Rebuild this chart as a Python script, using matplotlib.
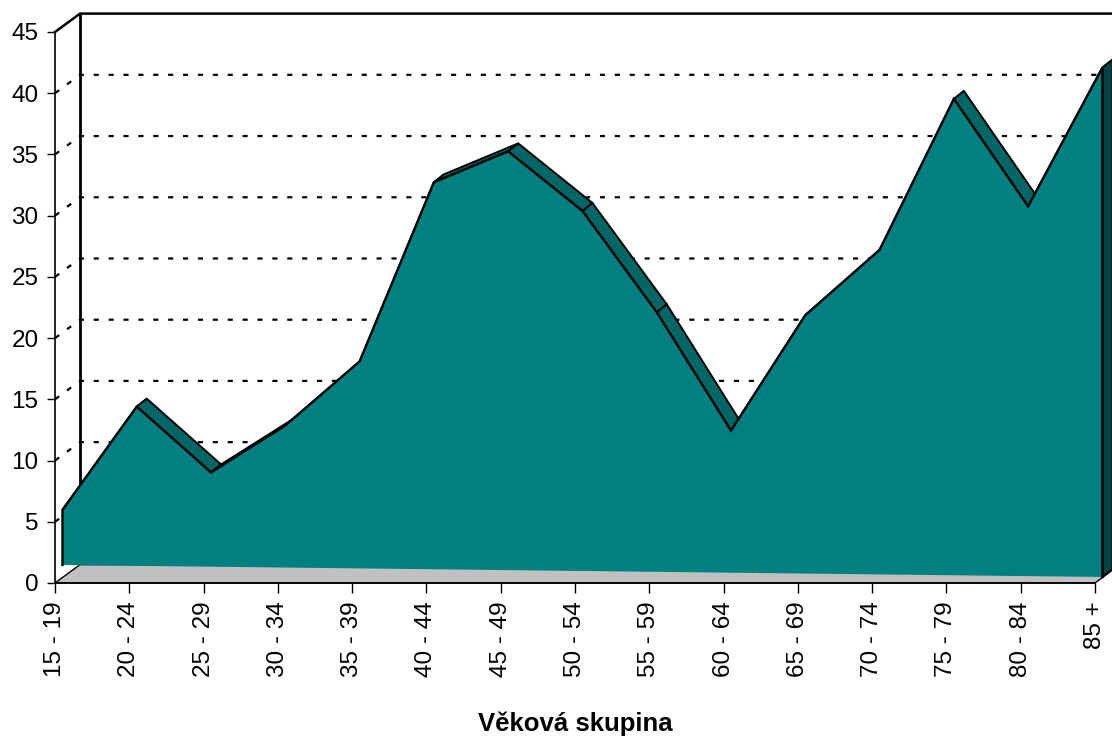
import numpy as np
import matplotlib.pyplot as plt
from matplotlib.patches import Polygon

plt.rcParams['font.family'] = ['Liberation Sans', 'DejaVu Sans']

# data
age_groups = ['15 - 19', '20 - 24', '25 - 29', '30 - 34', '35 - 39', '40 - 44',
              '45 - 49', '50 - 54', '55 - 59', '60 - 64', '65 - 69', '70 - 74',
              '75 - 79', '80 - 84', '85 +']
values = [4.5, 13.0, 7.7, 11.6, 16.9, 31.6, 34.2, 29.4, 21.2, 11.6,
          21.1, 26.5, 38.9, 30.2, 41.6]
y_ticks = [0, 5, 10, 15, 20, 25, 30, 35, 40, 45]
grid_levels = [5, 10, 15, 20, 25, 30, 35, 40]
x_title = 'Věková skupina'

# fake 3d look (offsets in data units)
wall_dx, wall_dy = 0.3365, 1.5      # front plane -> back wall
face_dx = 0.1                       # series face sits a bit behind the axis
base0, base_slope = 1.47, -0.07     # series baseline tilts toward the viewer
top_dx, top_dy = 0.135, 0.65        # thickness of the area

front_col = '#008080'
band_col = '#006666'
side_col = '#004545'
floor_col = '#c0c0c0'

fig = plt.figure(figsize=(11.12, 7.40), dpi=100)
ax = fig.add_axes([0.0495, 0.2122, 0.9352, 0.7446])
n = len(values)
ax.set_xlim(0, n - 1)
ax.set_ylim(0, 45)

# back wall + side wall outline
ax.plot([wall_dx, wall_dx], [wall_dy, 45 + wall_dy], color='black', lw=2, zorder=1, clip_on=False)
ax.plot([0, wall_dx, n - 1 + wall_dx + 1], [45, 45 + wall_dy, 45 + wall_dy],
        color='black', lw=1.8, zorder=1, clip_on=False)

# dotted gridlines on side wall and back wall
for g in grid_levels:
    ax.plot([0, wall_dx, n - 1 + wall_dx + 1], [g, g + wall_dy, g + wall_dy],
            color='black', lw=1.6, dashes=(2.3, 4.4), zorder=1, clip_on=False)

# floor
floor = Polygon([(0, 0), (wall_dx, wall_dy), (n - 1 + wall_dx, wall_dy), (n - 1, 0)],
                closed=True, fc=floor_col, ec='black', lw=1, zorder=2, clip_on=False)
ax.add_patch(floor)

xs = np.arange(n) + face_dx
base = base0 + base_slope * np.arange(n)
tops = base + np.array(values)

# top bands of the area
for i in range(n - 1):
    band = Polygon([(xs[i], tops[i]), (xs[i + 1], tops[i + 1]),
                    (xs[i + 1] + top_dx, tops[i + 1] + top_dy),
                    (xs[i] + top_dx, tops[i] + top_dy)],
                   closed=True, fc=band_col, ec='black', lw=1.4, zorder=3, clip_on=False)
    ax.add_patch(band)

# right side face
side = Polygon([(xs[-1], tops[-1]), (xs[-1] + top_dx, tops[-1] + top_dy),
                (xs[-1] + top_dx, base[-1] + top_dy), (xs[-1], base[-1])],
               closed=True, fc=side_col, ec='black', lw=1.4, zorder=3, clip_on=False)
ax.add_patch(side)

# front face
face_pts = [(xs[0], base[0])] + list(zip(xs, tops)) + [(xs[-1], base[-1])]
ax.add_patch(Polygon(face_pts, closed=True, fc=front_col, ec='none', zorder=4, clip_on=False))
ax.plot([p[0] for p in face_pts], [p[1] for p in face_pts], color='black', lw=1.7,
        zorder=5, clip_on=False, solid_joinstyle='miter')

# axes
for s in ['top', 'right']:
    ax.spines[s].set_visible(False)
ax.spines['left'].set_linewidth(1.2)
ax.spines['bottom'].set_linewidth(1.2)
ax.spines['left'].set_zorder(6)
ax.spines['bottom'].set_zorder(6)
ax.set_facecolor('none')

ax.set_xticks(range(n), age_groups, rotation=90)
ax.set_yticks(y_ticks)
ax.tick_params(axis='x', length=7, width=1, pad=6, labelsize=17.5)
ax.tick_params(axis='y', length=5.5, width=1, pad=6.5, labelsize=17.5)
ax.set_xlabel(x_title, fontsize=18.5, fontweight='bold', labelpad=25)

fig.savefig('out.png', dpi=100)
